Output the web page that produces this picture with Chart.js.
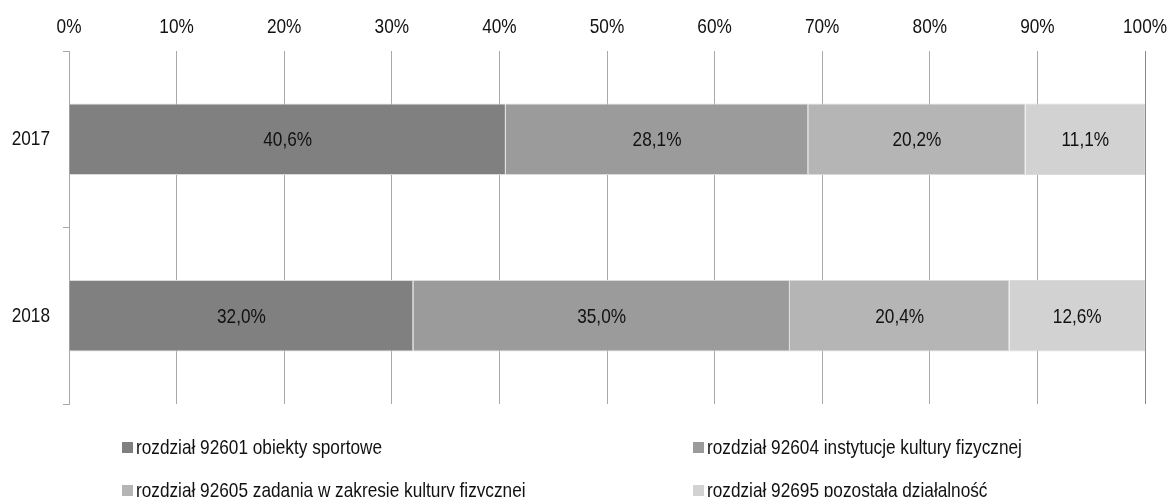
<!DOCTYPE html>
<html>
<head>
<meta charset="utf-8">
<script src="https://cdn.jsdelivr.net/npm/chart.js"></script>
<style>
  html, body { margin: 0; padding: 0; background: #fff; }
  #wrap { position: relative; width: 1171px; height: 497px; overflow: hidden; }
  .leg { position: absolute; display: flex; align-items: center; height: 24px;
         font-family: 'Liberation Sans', Arial, sans-serif;
         font-size: 21px; color: #111; white-space: nowrap; }
  .leg span.box { display: inline-block; width: 11px; height: 11px; margin-right: 3px; }
  .leg span.txt { display: inline-block; transform: scaleX(0.82); transform-origin: left center; }
</style>
</head>
<body>
<div id="wrap">
  <canvas id="myChart" width="1171" height="497"></canvas>
</div>
<script>
const years = ['2017', '2018'];
const seriesNames = [
  'rozdział 92601 obiekty sportowe',
  'rozdział 92604 instytucje kultury fizycznej',
  'rozdział 92605 zadania w zakresie kultury fizycznej',
  'rozdział 92695 pozostała działalność'
];
const obiektySportowe = [40.6, 32.0];
const instytucjeKultury = [28.1, 35.0];
const zadaniaKultury = [20.2, 20.4];
const pozostala = [11.1, 12.6];
const colors = ['#808080', '#9b9b9b', '#b5b5b5', '#d2d2d2'];

const FONT = "'Liberation Sans', Arial, sans-serif";
const NARROW = 0.82; // the original uses a narrow face, squeeze text horizontally
const values = [obiektySportowe, instytucjeKultury, zadaniaKultury, pozostala];

// squeeze every piece of canvas text around its anchor point
const narrowText = {
  id: 'narrowText',
  beforeInit(chart) {
    const c = chart.ctx;
    const orig = c.fillText.bind(c);
    c.fillText = function (txt, x, y, maxW) {
      c.save();
      c.translate(x, y);
      c.scale(NARROW, 1);
      if (maxW !== undefined) orig(txt, 0, 0, maxW / NARROW);
      else orig(txt, 0, 0);
      c.restore();
    };
  }
};

// value labels in the middle of each segment
const barLabels = {
  id: 'barLabels',
  afterDatasetsDraw(chart) {
    const ctx = chart.ctx;
    ctx.save();
    ctx.font = '21px ' + FONT;
    ctx.fillStyle = '#111';
    ctx.textAlign = 'center';
    ctx.textBaseline = 'middle';
    chart.data.datasets.forEach((ds, i) => {
      chart.getDatasetMeta(i).data.forEach((bar, j) => {
        const txt = ds.data[j].toFixed(1).replace('.', ',') + '%';
        ctx.fillText(txt, (bar.x + bar.base) / 2, bar.y + 1);
      });
    });
    ctx.restore();
  }
};

const ctx = document.getElementById('myChart').getContext('2d');
new Chart(ctx, {
  type: 'bar',
  data: {
    labels: years,
    datasets: seriesNames.map((name, i) => ({
      label: name,
      data: values[i],
      backgroundColor: colors[i],
      borderColor: '#dadada',
      borderWidth: 1,
      barPercentage: 0.405,
      categoryPercentage: 1
    }))
  },
  options: {
    indexAxis: 'y',
    responsive: false,
    animation: false,
    layout: { padding: { left: 0, right: 26, top: 0, bottom: 93 } },
    plugins: { legend: { display: false }, tooltip: { enabled: false } },
    scales: {
      x: {
        position: 'top',
        stacked: true,
        min: 0,
        max: 100,
        ticks: {
          stepSize: 10,
          padding: 11,
          color: '#111',
          font: { family: FONT, size: 21 },
          callback: v => v + '%'
        },
        grid: {
          drawTicks: false,
          color: c => (c.tick && c.tick.value === 100 ? '#8a8a8a' : '#a8a8a8')
        },
        border: { display: false },
        afterFit: s => { s.height = 51; s.paddingLeft = 0; s.paddingRight = 0; }
      },
      y: {
        stacked: true,
        ticks: {
          padding: 13,
          color: '#111',
          font: { family: FONT, size: 21 }
        },
        grid: {
          drawOnChartArea: false,
          drawTicks: true,
          tickLength: 6,
          color: '#a8a8a8'
        },
        border: { display: true, color: '#a8a8a8' },
        afterFit: s => { s.width = 69; }
      }
    }
  },
  plugins: [narrowText, barLabels]
});

// legend in two columns, built from the series arrays
const legPos = [[122, 435], [693, 435], [122, 478], [693, 478]];
const wrap = document.getElementById('wrap');
seriesNames.forEach((name, i) => {
  const d = document.createElement('div');
  d.className = 'leg';
  d.style.left = legPos[i][0] + 'px';
  d.style.top = legPos[i][1] + 'px';
  d.innerHTML = '<span class="box" style="background:' + colors[i] + '"></span>';
  const t = document.createElement('span');
  t.className = 'txt';
  t.textContent = name;
  d.appendChild(t);
  wrap.appendChild(d);
});
</script>
</body>
</html>
